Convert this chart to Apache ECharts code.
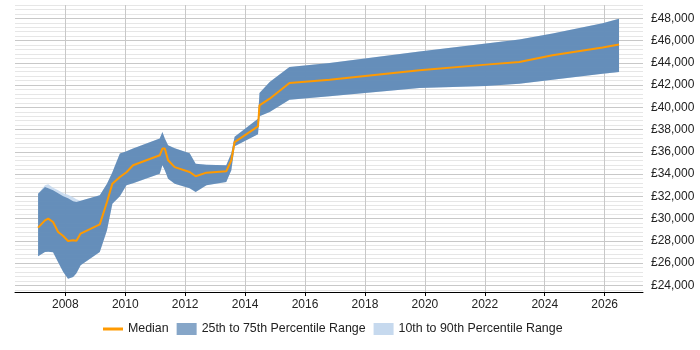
<!DOCTYPE html>
<html>
<head>
<meta charset="utf-8">
<script src="https://cdn.jsdelivr.net/npm/echarts@6/dist/echarts.min.js"></script>
<style>html,body{margin:0;padding:0;background:#fff}#c{width:700px;height:350px}</style>
</head>
<body>
<div id="c"></div>
<script>
var years = [2007.09,2007.32,2007.43,2007.59,2007.76,2007.93,2008.09,2008.26,2008.37,2008.51,2009.15,2009.39,2009.57,2009.82,2010.04,2010.26,2011.15,2011.24,2011.32,2011.43,2011.65,2012.15,2012.35,2012.71,2013.37,2013.54,2013.65,2014.43,2014.48,2014.82,2015.48,2016.82,2019.82,2022.04,2023.15,2024.26,2025.93,2026.48];
var median = [29190,29840,30000,29690,28790,28430,27980,28045,28000,28650,29480,31490,33140,33735,34160,34790,35690,36290,36290,35240,34630,34190,33800,34130,34250,35240,36880,38290,40180,40780,42190,42490,43330,43840,44070,44680,45370,45640];
var p75 = [32240,32840,32720,32540,32270,32000,31820,31550,31490,31600,32090,33140,34160,35840,36045,36290,37190,37780,37190,36590,36320,35870,34940,34830,34790,35870,37350,38980,41290,42280,43620,43980,45030,45730,46090,46630,47550,47970];
var p25 = [26610,26990,27010,26970,26070,25200,24600,24750,25080,25800,26990,28940,31340,32000,32990,33170,34040,34790,34340,33590,33140,32720,32390,32990,33290,34340,36500,37570,39190,39580,40690,40990,41740,41920,42130,42490,43010,43170];
var p90 = [32240,32990,33080,32780,32540,32270,32140,31910,31730,31600,32090,33140,34160,35840,36045,36290,37190,37780,37190,36590,36320,35870,34940,34830,34790,35870,37350,38980,41290,42280,43620,43980,45030,45730,46090,46630,47550,47970];
var p10 = [26610,26990,27010,26970,26070,25200,24600,24750,25080,25800,26990,28940,31340,32000,32990,33170,34040,34790,34340,33590,33140,32720,32390,32990,33290,34340,36500,37570,39190,39580,40690,40990,41740,41920,42130,42490,43010,43170];
var xTickYears = [2008,2010,2012,2014,2016,2018,2020,2022,2024,2026];
var legendNames = ['Median','25th to 75th Percentile Range','10th to 90th Percentile Range'];

var chart = echarts.init(document.getElementById('c'));
var FONT = '"Liberation Sans", Arial, sans-serif';

function band(lo, hi, fill, op) {
  return function (params, api) {
    var pts = [];
    for (var i = 0; i < years.length; i++) pts.push(api.coord([years[i], hi[i]]));
    for (var j = years.length - 1; j >= 0; j--) pts.push(api.coord([years[j], lo[j]]));
    return { type: 'polygon', shape: { points: pts }, style: { fill: fill, opacity: op } };
  };
}

var gMinor = '#e6e6e6', gMajor = '#c8c8c8';

chart.setOption({
  animation: false,
  textStyle: { fontFamily: FONT },
  grid: { left: 15, right: 57, top: 5, bottom: 58 },
  legend: {
    bottom: 10, left: 98, itemWidth: 20, itemHeight: 12, itemGap: 8,
    textStyle: { fontFamily: FONT, fontSize: 12.4, color: '#222' },
    data: [
      { name: legendNames[0], icon: 'path://M0 0H20V3H0Z' },
      { name: legendNames[1], icon: 'rect' },
      { name: legendNames[2], icon: 'rect' }
    ]
  },
  xAxis: {
    type: 'value', min: 2006.32, max: 2027.28,
    axisLine: { show: true, lineStyle: { color: '#000', width: 1 } },
    axisTick: { show: true, length: 4, customValues: xTickYears, lineStyle: { color: '#000' } },
    axisLabel: { customValues: xTickYears, color: '#222', fontSize: 12, margin: 7, fontFamily: FONT, formatter: function (v) { return String(Math.round(v)); } },
    splitLine: { show: true, lineStyle: { color: '#c8c8c8', width: 1 } }
  },
  yAxis: {
    type: 'value', position: 'right', min: 23400, max: 49200, interval: 200,
    axisLine: { show: false }, axisTick: { show: false },
    axisLabel: {
      color: '#222', fontSize: 12, margin: 8, fontFamily: FONT,
      formatter: function (v) { v = Math.round(v); return v % 2000 === 0 ? '£' + v.toLocaleString('en-GB') : ''; }
    },
    splitLine: { show: true, lineStyle: { width: 1, color: ['transparent', gMinor, 'transparent', gMajor, 'transparent', gMinor, 'transparent', gMinor, 'transparent', gMinor] } }
  },
  series: [
    { name: legendNames[2], type: 'custom', data: [[years[0], median[0]]], encode: { x: 0, y: 1 }, itemStyle: { color: '#c6d9ee' }, renderItem: band(p10, p90, '#c6d9ee', 0.9), z: 2 },
    { name: legendNames[1], type: 'custom', data: [[years[0], median[0]]], encode: { x: 0, y: 1 }, itemStyle: { color: '#86a6c8' }, renderItem: band(p25, p75, '#4f7eae', 0.82), z: 3 },
    { name: legendNames[0], type: 'line', data: years.map(function (y, i) { return [y, median[i]]; }), showSymbol: false, symbol: 'none', lineStyle: { color: '#ff9a00', width: 2 }, itemStyle: { color: '#ff9a00' }, z: 4 }
  ]
});
</script>
</body>
</html>
